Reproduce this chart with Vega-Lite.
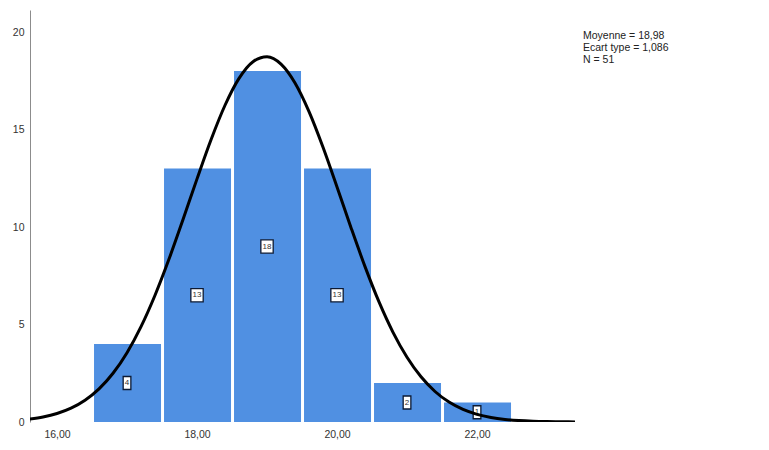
{
  "$schema": "https://vega.github.io/schema/vega-lite/v6.json",
  "width": 546,
  "height": 412,
  "autosize": "none",
  "padding": {"left": 30, "top": 10, "right": 193, "bottom": 28},
  "background": "white",
  "config": {
    "view": {"stroke": null},
    "font": "Liberation Sans",
    "axis": {"grid": false, "ticks": false, "labelFont": "Liberation Sans", "labelFontSize": 10.5, "labelColor": "#333333", "title": null}
  },
  "datasets": {
    "bins": [
      {"start": 16.5, "end": 17.5, "count": 4},
      {"start": 17.5, "end": 18.5, "count": 13},
      {"start": 18.5, "end": 19.5, "count": 18},
      {"start": 19.5, "end": 20.5, "count": 13},
      {"start": 20.5, "end": 21.5, "count": 2},
      {"start": 21.5, "end": 22.5, "count": 1}
    ],
    "labels": [
      {"mid": 17, "half": 2, "count": 4},
      {"mid": 18, "half": 6.5, "count": 13},
      {"mid": 19, "half": 9, "count": 18},
      {"mid": 20, "half": 6.5, "count": 13},
      {"mid": 21, "half": 1, "count": 2},
      {"mid": 22, "half": 0.5, "count": 1}
    ],
    "curve": [
      {"x": 15.6, "y": 0.1476}, {"x": 15.8, "y": 0.2575}, {"x": 16.0, "y": 0.4341}, {"x": 16.2, "y": 0.7075},
      {"x": 16.4, "y": 1.1145}, {"x": 16.6, "y": 1.6973}, {"x": 16.8, "y": 2.4983}, {"x": 17.0, "y": 3.5552},
      {"x": 17.2, "y": 4.8903}, {"x": 17.4, "y": 6.502}, {"x": 17.6, "y": 8.3566}, {"x": 17.8, "y": 10.3824},
      {"x": 18.0, "y": 12.469}, {"x": 18.2, "y": 14.476}, {"x": 18.4, "y": 16.245}, {"x": 18.6, "y": 17.622},
      {"x": 18.8, "y": 18.479}, {"x": 19.0, "y": 18.732}, {"x": 19.2, "y": 18.354}, {"x": 19.4, "y": 17.385},
      {"x": 19.6, "y": 15.917}, {"x": 19.8, "y": 14.088}, {"x": 20.0, "y": 12.053}, {"x": 20.2, "y": 9.968},
      {"x": 20.4, "y": 7.969}, {"x": 20.6, "y": 6.158}, {"x": 20.8, "y": 4.6}, {"x": 21.0, "y": 3.322},
      {"x": 21.2, "y": 2.3188}, {"x": 21.4, "y": 1.5646}, {"x": 21.6, "y": 1.0205}, {"x": 21.8, "y": 0.6434},
      {"x": 22.0, "y": 0.3921}, {"x": 22.2, "y": 0.231}, {"x": 22.4, "y": 0.1316}, {"x": 22.6, "y": 0.0724},
      {"x": 22.8, "y": 0.0385}, {"x": 23.0, "y": 0.0198}, {"x": 23.2, "y": 0.0099}, {"x": 23.4, "y": 0.0047}
    ],
    "stats": [
      {"x": 23.514, "y": 19.79, "text": "Moyenne = 18,98"},
      {"x": 23.514, "y": 19.18, "text": "Ecart type = 1,086"},
      {"x": 23.514, "y": 18.56, "text": "N = 51"}
    ]
  },
  "layer": [
    {
      "data": {"name": "bins"},
      "mark": {"type": "bar", "color": "#5090e2", "binSpacing": 3},
      "encoding": {
        "x": {"field": "start", "type": "quantitative", "bin": "binned",
              "scale": {"domain": [15.614, 23.414], "nice": false, "zero": false},
              "axis": {"values": [16, 18, 20, 22], "domain": false, "labelPadding": 7,
                       "labelExpr": "replace(format(datum.value, '.2f'), '.', ',')"}},
        "x2": {"field": "end"},
        "y": {"field": "count", "type": "quantitative",
              "scale": {"domain": [0, 21.13], "nice": false},
              "axis": {"values": [0, 5, 10, 15, 20], "domain": true, "domainColor": "#8c8c8c", "domainWidth": 1, "labelPadding": 6}}
      }
    },
    {
      "data": {"name": "labels"},
      "mark": {"type": "point", "filled": true, "fill": "white", "stroke": "#0d1a33", "strokeWidth": 1.3, "opacity": 1, "size": 196},
      "encoding": {
        "x": {"field": "mid", "type": "quantitative"},
        "y": {"field": "half", "type": "quantitative"},
        "shape": {"field": "count", "type": "nominal", "legend": null,
                  "scale": {"domain": [1, 2, 4, 13, 18],
                            "range": ["M-0.55,-0.93H0.55V0.93H-0.55Z", "M-0.55,-0.93H0.55V0.93H-0.55Z", "M-0.55,-0.93H0.55V0.93H-0.55Z", "M-0.88,-0.95H0.88V0.95H-0.88Z", "M-0.88,-0.95H0.88V0.95H-0.88Z"]}}
      }
    },
    {
      "data": {"name": "labels"},
      "mark": {"type": "text", "fontSize": 8, "color": "#333333", "baseline": "middle", "align": "center"},
      "encoding": {
        "x": {"field": "mid", "type": "quantitative"},
        "y": {"field": "half", "type": "quantitative"},
        "text": {"field": "count", "type": "nominal"}
      }
    },
    {
      "data": {"name": "curve"},
      "mark": {"type": "line", "color": "black", "strokeWidth": 3, "interpolate": "monotone", "clip": true},
      "encoding": {
        "x": {"field": "x", "type": "quantitative"},
        "y": {"field": "y", "type": "quantitative"}
      }
    },
    {
      "data": {"name": "stats"},
      "mark": {"type": "text", "fontSize": 10.5, "color": "#222222", "align": "left", "baseline": "middle", "clip": false},
      "encoding": {
        "x": {"field": "x", "type": "quantitative"},
        "y": {"field": "y", "type": "quantitative"},
        "text": {"field": "text", "type": "nominal"}
      }
    }
  ]
}
